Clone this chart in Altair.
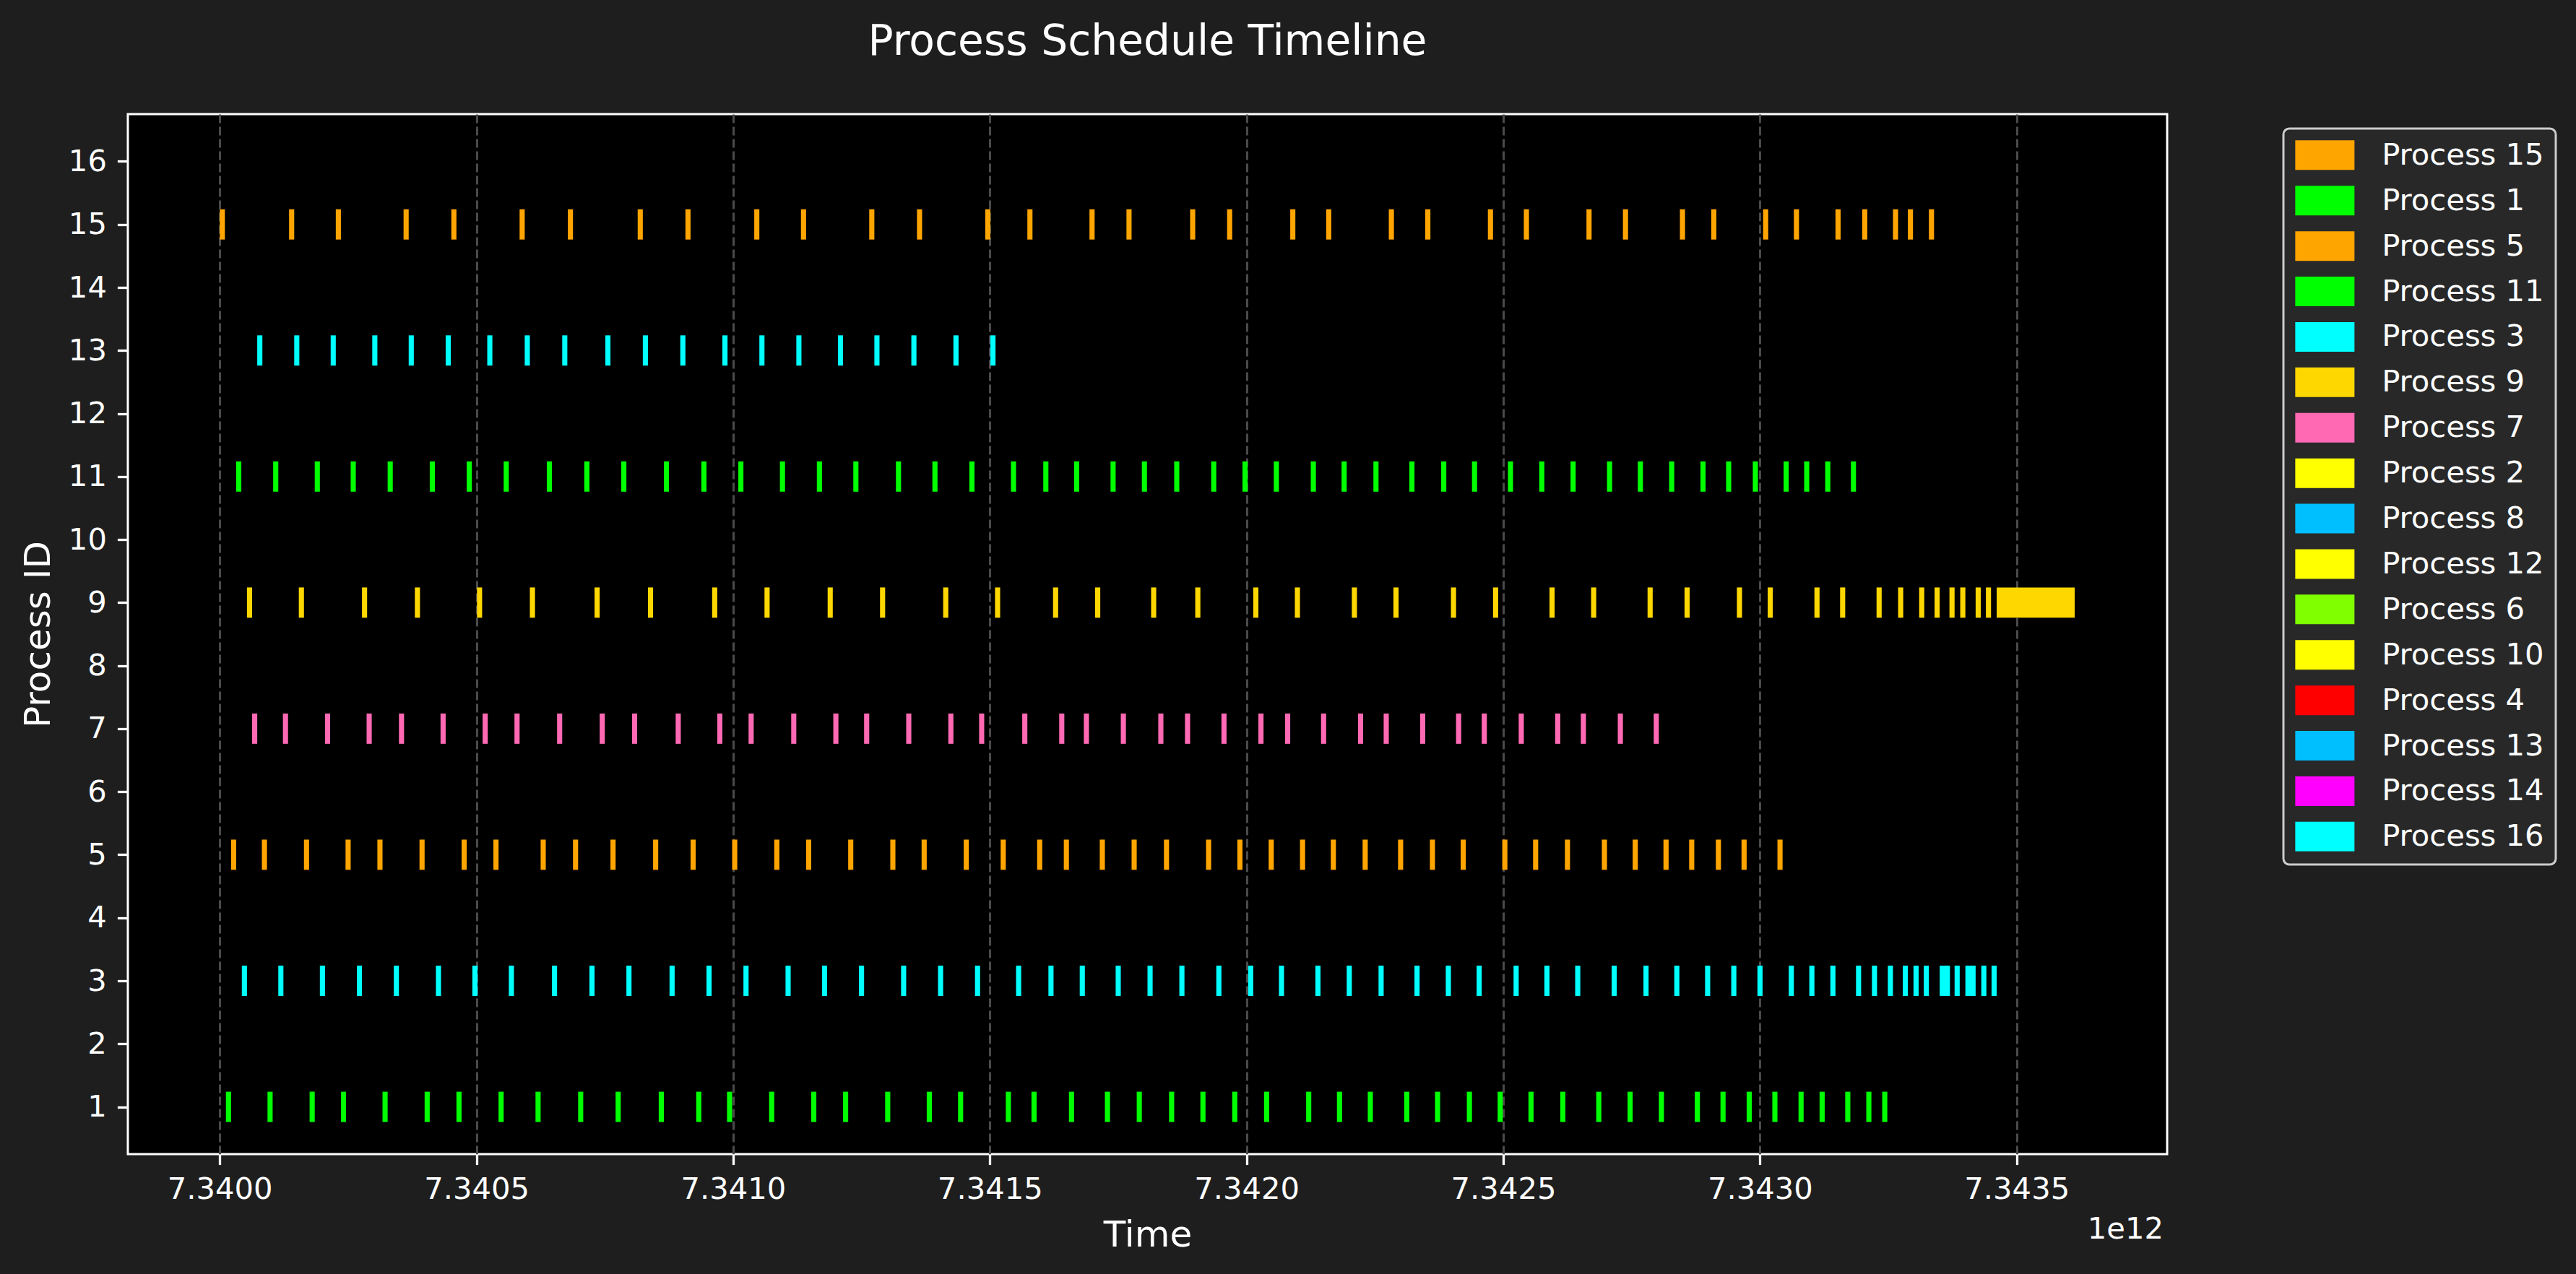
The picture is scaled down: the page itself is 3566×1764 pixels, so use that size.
import altair as alt
import pandas as pd

# time axis: base value and unit (values below are offsets in units of 1e6)
T0 = 7.34e12
UNIT = 1e6
SLICE = 10  # typical time-slice length (in units of 1e6)

# start offsets of every time slice, per row (Process ID on the y axis)
P15 = [0, 135, 226, 358, 451, 584, 678, 814, 907, 1041, 1132, 1265, 1358, 1491, 1573, 1694, 1766,
       1890, 1962, 2085, 2155, 2277, 2348, 2470, 2540, 2662, 2733, 2844, 2905, 3006, 3066, 3147,
       3199, 3259, 3288, 3329]
P13 = [73, 145, 216, 297, 368, 440, 521, 594, 667, 751, 824, 897, 979, 1051, 1123, 1204, 1275,
       1347, 1429, 1501]
P11 = [32, 104, 185, 255, 327, 409, 481, 553, 637, 710, 782, 865, 938, 1010, 1091, 1163, 1234,
       1317, 1388, 1460, 1541, 1604, 1664, 1735, 1796, 1859, 1931, 1992, 2053, 2125, 2185, 2247,
       2317, 2379, 2439, 2509, 2570, 2631, 2702, 2762, 2823, 2884, 2934, 2986, 3046, 3086, 3127, 3177]
P9 = [53, 154, 277, 380, 501, 604, 730, 834, 959, 1061, 1184, 1286, 1409, 1510, 1623, 1705, 1814,
      1900, 2013, 2094, 2205, 2286, 2398, 2480, 2590, 2671, 2781, 2853, 2955, 3015, 3106, 3156,
      3227, 3269, 3310, 3340, 3369, 3390, 3420, 3440, 3461]
P7 = [63, 123, 205, 286, 349, 430, 512, 574, 657, 740, 803, 888, 969, 1030, 1113, 1195, 1255,
      1337, 1419, 1479, 1563, 1635, 1683, 1755, 1828, 1880, 1951, 2023, 2075, 2145, 2217, 2267,
      2338, 2408, 2458, 2530, 2601, 2651, 2723, 2793]
P5 = [22, 82, 164, 245, 307, 389, 471, 533, 625, 688, 761, 844, 917, 998, 1080, 1142, 1224, 1306,
      1367, 1449, 1521, 1592, 1644, 1714, 1776, 1839, 1921, 1982, 2043, 2104, 2164, 2226, 2295,
      2357, 2417, 2498, 2558, 2620, 2692, 2752, 2812, 2862, 2914, 2964, 3034]
P3 = [43, 114, 195, 267, 339, 421, 492, 563, 647, 720, 792, 876, 948, 1020, 1102, 1173, 1245,
      1327, 1399, 1471, 1551, 1614, 1675, 1745, 1807, 1869, 1941, 2003, 2063, 2134, 2195, 2257,
      2327, 2388, 2448, 2520, 2580, 2640, 2711, 2773, 2833, 2893, 2944, 2995, 3056, 3096, 3137,
      3187, 3218, 3249, 3278, 3299, 3319, 3350, 3379, 3400, 3431, 3451]
P1 = [12, 93, 175, 236, 317, 399, 461, 543, 615, 698, 771, 855, 928, 988, 1070, 1152, 1214, 1296,
      1377, 1438, 1531, 1581, 1654, 1724, 1786, 1849, 1910, 1972, 2034, 2116, 2176, 2236, 2307,
      2367, 2429, 2489, 2549, 2611, 2681, 2742, 2803, 2873, 2923, 2974, 3024, 3075, 3116, 3166,
      3207, 3238]

# slices that are longer than the usual one: (row, start) -> length
LONG_SLICES = {(9, 3461): 152, (3, 3350): 20, (3, 3400): 20}

# (row, legend entry whose colour the row uses, starts)
ROWS = [
    (15, "Process 15", P15),
    (13, "Process 16", P13),
    (11, "Process 11", P11),
    (9, "Process 9", P9),
    (7, "Process 7", P7),
    (5, "Process 5", P5),
    (3, "Process 3", P3),
    (1, "Process 1", P1),
]

LEGEND_ORDER = ["Process 15", "Process 1", "Process 5", "Process 11", "Process 3", "Process 9",
                "Process 7", "Process 2", "Process 8", "Process 12", "Process 6", "Process 10",
                "Process 4", "Process 13", "Process 14", "Process 16"]
LEGEND_COLORS = ["#FFA500", "#00FF00", "#FFA500", "#00FF00", "#00FFFF", "#FFD700",
                 "#FF69B4", "#FFFF00", "#00BFFF", "#FFFF00", "#7FFF00", "#FFFF00",
                 "#FF0000", "#00BFFF", "#FF00FF", "#00FFFF"]

X_TICKS = [7.3400e12, 7.3405e12, 7.3410e12, 7.3415e12, 7.3420e12, 7.3425e12, 7.3430e12, 7.3435e12]
Y_TICKS = list(range(1, 17))

recs = []
for pid, key, starts in ROWS:
    for s in starts:
        d = LONG_SLICES.get((pid, s), SLICE)
        recs.append({"pid": pid, "proc": key, "t0": T0 + s * UNIT, "t1": T0 + (s + d) * UNIT})
df = pd.DataFrame(recs)

FONT = "DejaVu Sans"
W, H = 2823, 1440

bars = alt.Chart(df).mark_rect(strokeWidth=0).transform_calculate(
    y0="datum.pid - 0.24", y1="datum.pid + 0.24"
).encode(
    x=alt.X("t0:Q", title="Time",
            scale=alt.Scale(domain=[T0 - 179 * UNIT, T0 + 3793 * UNIT], nice=False, zero=False),
            axis=alt.Axis(values=X_TICKS, labelExpr="format(datum.value / 1e12, '.4f')",
                          grid=True, gridColor="#4a4a4a", gridDash=[12, 5], gridWidth=3,
                          labelBaseline="alphabetic", labelPadding=47, labelFlush=False,
                          labelOverlap=False, titleY=127, titleBaseline="alphabetic")),
    x2="t1:Q",
    y=alt.Y("y0:Q", title="Process ID",
            scale=alt.Scale(domain=[0.25, 16.75], nice=False, zero=False),
            axis=alt.Axis(values=Y_TICKS, grid=False, labelPadding=15, labelOverlap=False,
                          titleX=-109, titleY=H / 2, titleAngle=270, titleAlign="center",
                          titleBaseline="alphabetic")),
    y2="y1:Q",
    color=alt.Color("proc:N",
                    scale=alt.Scale(domain=LEGEND_ORDER, range=LEGEND_COLORS),
                    legend=alt.Legend(title=None, orient="none", legendX=2984, legendY=20,
                                      direction="vertical",
                                      symbolType="M-2,-1H2V1H-2Z", symbolSize=1681,
                                      symbolStrokeWidth=0, symbolOpacity=1,
                                      symbolOffset=20.5, labelOffset=58,
                                      labelFont=FONT, labelFontSize=41.7, labelColor="white",
                                      labelLimit=500, rowPadding=19.9, padding=16,
                                      fillColor="#282828", strokeColor="#cccccc",
                                      cornerRadius=8)),
)

offset_text = alt.Chart(pd.DataFrame({"label": ["1e12"]})).mark_text(
    align="right", baseline="alphabetic", fontSize=41.7, font=FONT, color="white"
).encode(x=alt.value(W - 5), y=alt.value(1557), text="label:N")

chart = alt.layer(bars, offset_text).properties(
    width=W, height=H,
    title=alt.Title("Process Schedule Timeline", fontSize=58.3, font=FONT, color="white",
                    fontWeight="normal", offset=24, baseline="alphabetic", anchor="middle"),
    background="#1e1e1e",
    padding={"left": 177, "top": 158, "right": 566, "bottom": 166},
    autosize=alt.AutoSizeParams(type="none"),
).configure_view(
    fill="black", stroke="white", strokeWidth=3
).configure_axis(
    domain=False, labelColor="white", titleColor="white", tickColor="white",
    labelFont=FONT, titleFont=FONT, labelFontSize=41.7, titleFontSize=50,
    titleFontWeight="normal", tickSize=14.6, tickWidth=3.3,
).configure_legend(
    strokeWidth=3
)

chart.save("out.html", embed_options={"renderer": "svg", "actions": False})
